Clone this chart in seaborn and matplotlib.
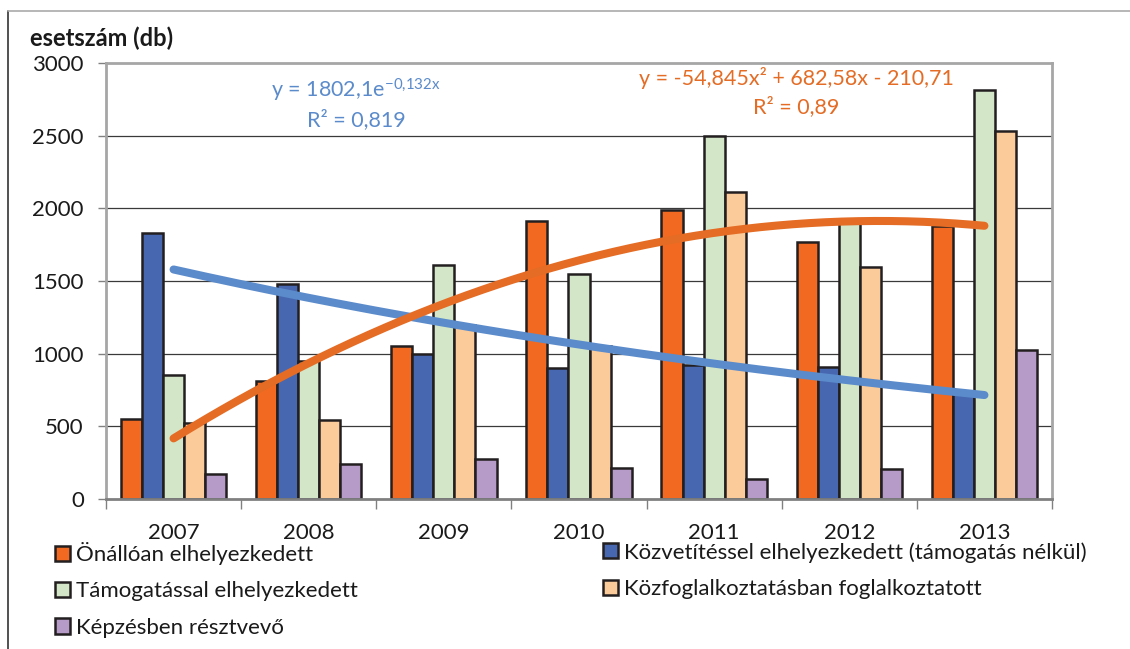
import numpy as np
import pandas as pd
import matplotlib
matplotlib.use("Agg")
import matplotlib.pyplot as plt
from matplotlib.lines import Line2D
from matplotlib.patches import Patch
import seaborn as sns

# ---------------- data ----------------
years = ["2007", "2008", "2009", "2010", "2011", "2012", "2013"]
series_names = [
    "Önállóan elhelyezkedett",
    "Közvetítéssel elhelyezkedett (támogatás nélkül)",
    "Támogatással elhelyezkedett",
    "Közfoglalkoztatásban foglalkoztatott",
    "Képzésben résztvevő",
]
onalloan = [550, 810, 1050, 1910, 1990, 1770, 1880]
kozvetitessel = [1830, 1480, 1000, 900, 920, 910, 740]
tamogatassal = [850, 950, 1610, 1550, 2500, 1900, 2815]
kozfoglalkoztatas = [520, 545, 1200, 1050, 2110, 1595, 2530]
kepzes = [170, 240, 275, 215, 135, 205, 1025]

# trend line equations as printed on the chart
exp_a, exp_b = 1802.1, -0.132            # y = a * e^(b x)
poly_c = [-54.845, 682.58, -210.71]      # y = c2 x^2 + c1 x + c0
exp_r2 = "0,819"
poly_r2 = "0,89"

y_label = "esetszám (db)"
y_ticks = [0, 500, 1000, 1500, 2000, 2500, 3000]

colors = ["#F26A21", "#4767B0", "#D3E7C8", "#FCCB9A", "#B69BC8"]
exp_color = "#5B8BCB"
poly_color = "#E46C25"

# ---------------- build frame ----------------
values = [onalloan, kozvetitessel, tamogatassal, kozfoglalkoztatas, kepzes]
rows = []
for name, vals in zip(series_names, values):
    for yr, v in zip(years, vals):
        rows.append({"year": yr, "value": v, "series": name})
df = pd.DataFrame(rows)

sns.set_theme(style="white")
plt.rcParams["font.family"] = ["Lato", "DejaVu Sans"]
plt.rcParams["mathtext.default"] = "regular"

fig = plt.figure(figsize=(11.3, 6.49), dpi=100)
ax = fig.add_axes([106 / 1130, 1 - 499 / 649, (1052 - 106) / 1130, (499 - 63) / 649])

sns.barplot(data=df, x="year", y="value", hue="series", order=years,
            hue_order=series_names, palette=colors, width=0.78, gap=0,
            edgecolor="#231F20", linewidth=1.8, saturation=1, ax=ax, legend=False,
            zorder=2)

# grid
ax.set_ylim(0, 3000)
ax.set_xlim(-0.5, len(years) - 0.5)
ax.set_yticks(y_ticks)
ax.set_yticklabels([str(t) for t in y_ticks])
for t in y_ticks[1:-1]:
    ax.axhline(t, color="#3a3a3a", lw=0.9, zorder=1)
for s in ax.spines.values():
    s.set_color("#A6A6A6")
    s.set_linewidth(2)
ax.spines["bottom"].set_color("#808080")

ax.tick_params(axis="y", length=6, width=1, color="#808080", pad=10,
               labelsize=16, labelcolor="#1a1a1a", left=True)
ax.set_xticks(range(len(years)))
ax.set_xticklabels(years)
ax.set_xticks(np.arange(-0.5, len(years), 1.0), minor=True)
ax.tick_params(axis="x", which="major", length=0, pad=17, labelsize=16,
               labelcolor="#1a1a1a")
ax.tick_params(axis="x", which="minor", length=7, width=1, color="#808080",
               bottom=True)
ax.set_xlabel("")
ax.set_ylabel("")

# trend lines (x = 1..7 in Excel terms)
xs = np.linspace(0, len(years) - 1, 200)
xe = xs + 1
y_exp = exp_a * np.exp(exp_b * xe)
y_poly = np.polyval(poly_c, xe)
ax.plot(xs, y_exp, color=exp_color, lw=5.8, solid_capstyle="round", zorder=4)
ax.plot(xs, y_poly, color=poly_color, lw=5.8, solid_capstyle="round", zorder=4)

# equations
def fmt(v):
    return f"{abs(v):g}".replace(".", ",")

ax.text(1.35, 2814, "y = " + fmt(exp_a) + "e$^{" + ("-" if exp_b < 0 else "")
        + fmt(exp_b).replace(",", "{,}") + "x}$",
        color=exp_color, fontsize=15.5, ha="center", va="center", zorder=5)
ax.text(1.35, 2610, "R² = " + exp_r2, color=exp_color, fontsize=15.5,
        ha="center", va="center", zorder=5)
poly_txt = ("y = -" if poly_c[0] < 0 else "y = ") + fmt(poly_c[0]) + "x² " + \
    ("+ " if poly_c[1] >= 0 else "- ") + fmt(poly_c[1]) + "x " + \
    ("+ " if poly_c[2] >= 0 else "- ") + fmt(poly_c[2])
ax.text(4.61, 2897, poly_txt, color=poly_color, fontsize=15.5,
        ha="center", va="center", zorder=5)
ax.text(4.61, 2700, "R² = " + poly_r2, color=poly_color, fontsize=15.5,
        ha="center", va="center", zorder=5)

# y label
fig.text(30 / 1130, 1 - 38 / 649, y_label, fontsize=17, fontweight="bold",
         color="#1a1a1a", ha="left", va="center")

# legends (row-major as in reference)
handles = [Patch(facecolor=c, edgecolor="#231F20", linewidth=1.8) for c in colors]
leg_kw = dict(frameon=False, fontsize=16, handlelength=0.68, handleheight=0.68,
              handletextpad=0.25, labelspacing=0.74, borderpad=0, borderaxespad=0,
              loc="upper left")
leg1 = fig.legend([handles[0], handles[2], handles[4]],
                  [series_names[0], series_names[2], series_names[4]],
                  bbox_to_anchor=(55 / 1130, 1 - 542 / 649), **leg_kw)
leg2 = fig.legend([handles[1], handles[3]],
                  [series_names[1], series_names[3]],
                  bbox_to_anchor=(603 / 1130, 1 - 542 / 649), **leg_kw)
for lg in (leg1, leg2):
    for t in lg.get_texts():
        t.set_color("#1a1a1a")

# figure border lines
fig.add_artist(Line2D([8 / 1130, 8 / 1130], [0, 1 - 11 / 649], color="#333333",
                      lw=1.2, transform=fig.transFigure))
fig.add_artist(Line2D([8 / 1130, 1], [1 - 11 / 649, 1 - 11 / 649], color="#AAAAAA",
                      lw=1.2, transform=fig.transFigure))

fig.savefig("out.png", dpi=100)
